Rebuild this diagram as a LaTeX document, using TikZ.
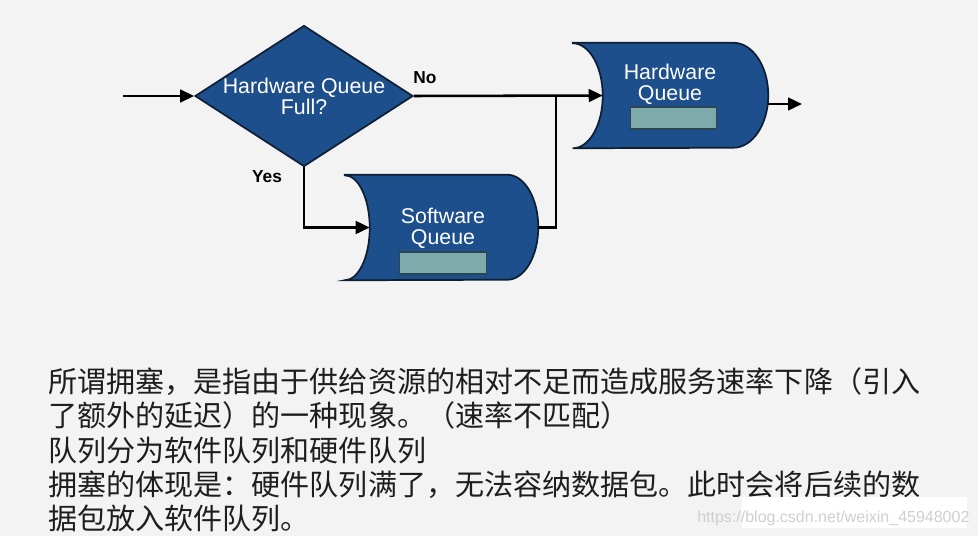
\documentclass[tikz,border=0pt]{standalone}
\usepackage{fontspec}
\setmainfont{Liberation Sans}
\newfontfamily\cjk{Noto Sans CJK SC}
\usetikzlibrary{arrows.meta,shapes.geometric}
\definecolor{bg}{HTML}{F3F3F3}
\definecolor{qblue}{HTML}{1D4F8C}
\definecolor{qedge}{HTML}{0E1E33}
\definecolor{slotfill}{HTML}{7DAAAB}
\definecolor{slotedge}{HTML}{2B4550}
\definecolor{txt}{HTML}{1E1E1E}
\definecolor{wm}{HTML}{CFCFCF}
\tikzset{
  qshape/.style={fill=qblue,draw=qedge,line width=1.3pt},
  qbox/.style={rectangle,inner sep=0pt},
  qtext/.style={text=white,align=center,font=\fontsize{16}{15.8}\selectfont},
  slot/.style={rectangle,fill=slotfill,draw=slotedge,line width=0.9pt,minimum width=65pt,minimum height=16.5pt,inner sep=0pt},
  decision/.style={diamond,fill=qblue,draw=qedge,line width=1.3pt,minimum width=163.5pt,minimum height=105.75pt,inner sep=0pt},
  conn/.style={draw=black,line width=1.9pt},
  arr/.style={conn,-{Triangle[length=10.5pt,width=9.5pt]}},
  yn/.style={font=\bfseries\fontsize{13}{15}\selectfont,text=black},
  para/.style={anchor=west,inner sep=0pt,text=txt,font=\cjk\fontsize{21.8}{26}\selectfont},
}
\begin{document}
\begin{tikzpicture}[x=0.75pt,y=-0.75pt]
\fill[bg] (0,0) rectangle (978,536);
\useasboundingbox (0,0) rectangle (978,536);

% decision
\node[decision,label={[qtext]center:Hardware Queue\\Full?}] (dec) at (304,96) {};

% hardware queue
\node[qbox,minimum width=146.25pt,minimum height=78.75pt] (hwq) at (670.5,95.5) {};
\path[qshape] (hwq.north west) -- ([xshift=-26.25pt]hwq.north east)
  arc[start angle=90,end angle=-90,x radius=26.25pt,y radius=39.375pt]
  -- (hwq.south west)
  arc[start angle=-90,end angle=90,x radius=22.5pt,y radius=39.375pt] -- cycle;
\node[qtext] (hwqt) at (670,84.5) {Hardware\\Queue};
\node[slot] (hwqs) at (673.5,118) {};
\coordinate (hwqin) at ([xshift=22.5pt]hwq.west);

% software queue
\node[qbox,minimum width=144.75pt,minimum height=78.75pt] (swq) at (441.5,227.5) {};
\path[qshape] (swq.north west) -- ([xshift=-23.25pt]swq.north east)
  arc[start angle=90,end angle=-90,x radius=23.25pt,y radius=39.375pt]
  -- (swq.south west)
  arc[start angle=-90,end angle=90,x radius=18.75pt,y radius=39.375pt] -- cycle;
\node[qtext] (swqt) at (443,228) {Software\\Queue};
\node[slot] (swqs) at (443,263) {};
\coordinate (swqin) at ([xshift=18.75pt]swq.west);

% connectors
\coordinate (src) at (123,96);
\coordinate (jn) at (556,96);
\coordinate (dst) at (802,104);
\draw[arr] (src) -- (dec.west);
\draw[arr] (dec.east) -- (hwqin);
\draw[arr] (dec.south) |- (swqin);
\draw[conn] (swq.east) -| (jn);
\draw[arr] ([yshift=-6.375pt]hwq.east) -- (dst);

\node[yn] (no) at (425,78) {No};
\node[yn] (yes) at (267,177) {Yes};

% text
\node[para] (l1) at (48,382) {所谓拥塞，是指由于供给资源的相对不足而造成服务速率下降（引入};
\node[para] (l2) at (48,415) {了额外的延迟）的一种现象。（速率不匹配）};
\node[para] (l3) at (48,451) {队列分为软件队列和硬件队列};
\node[para] (l4) at (48,485) {拥塞的体现是：硬件队列满了，无法容纳数据包。此时会将后续的数};
\node[para] (l5) at (48,518) {据包放入软件队列。};

% watermark
\fill[white] (742,497) rectangle (967,528);
\node[anchor=west,inner sep=0pt,text=wm,font=\fontsize{12}{14}\selectfont] (wmk) at (697,518) {https://blog.csdn.net/weixin\_45948002};
\end{tikzpicture}
\end{document}
